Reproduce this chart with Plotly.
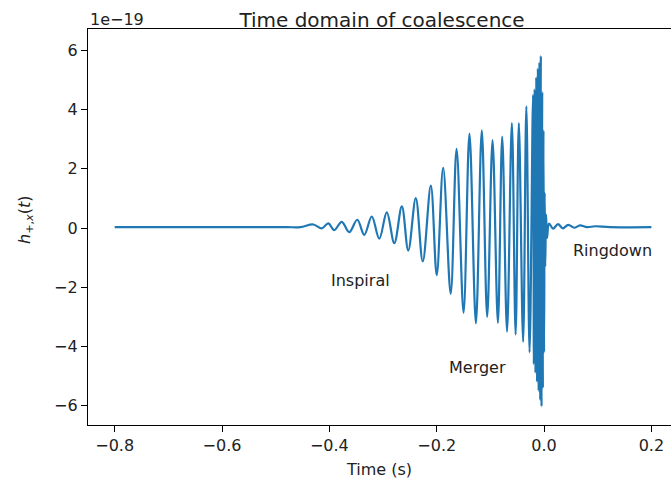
import plotly.graph_objects as go

# Extrema of the waveform (time in s, strain in units of 1e-19)
time_s = [-0.8, -0.6, -0.48, -0.454, -0.430, -0.414, -0.402, -0.391, -0.377, -0.363, -0.348, -0.335,
          -0.321, -0.307, -0.293, -0.279, -0.265, -0.253, -0.239, -0.226, -0.211, -0.200,
          -0.188, -0.174, -0.163, -0.150, -0.139, -0.127, -0.116, -0.106, -0.096, -0.086,
          -0.078, -0.069, -0.060, -0.053, -0.047, -0.039, -0.033, -0.027,
          -0.0205, -0.0190, -0.0175, -0.0160, -0.0145, -0.0130, -0.0115, -0.0101, -0.0086,
          -0.0071, -0.0060, -0.0047, -0.0034, -0.0022, -0.0011, 0.0, 0.0011, 0.0022,
          0.0037, 0.0056, 0.0093, 0.0168, 0.026, 0.035, 0.045, 0.056, 0.067, 0.080, 0.095,
          0.123, 0.2]
strain_e19 = [0.03, 0.03, 0.03, 0.03, 0.12, -0.01, 0.16, -0.07, 0.21, -0.14, 0.28, -0.23,
              0.39, -0.36, 0.53, -0.51, 0.73, -0.76, 1.01, -1.13, 1.43, -1.59,
              2.03, -2.22, 2.67, -2.86, 3.19, -3.22, 3.30, -3.00, 2.97, -3.20,
              3.09, -3.50, 3.54, -3.60, 3.54, -3.84, 4.11, -4.20,
              4.50, -4.60, 4.70, -4.90, 5.10, -5.20, 5.40, -5.50, 5.60,
              -5.80, 5.82, -6.03, 4.60, -5.40, 3.30, -4.20, 1.20, -1.30,
              0.45, -0.33, 0.15, -0.02, 0.13, -0.01, 0.11, 0.01, 0.09, 0.03, 0.06,
              0.03, 0.03]

x_ticks = [-0.8, -0.6, -0.4, -0.2, 0.0, 0.2]
x_tick_labels = ["\u22120.8", "\u22120.6", "\u22120.4", "\u22120.2", "0.0", "0.2"]
y_ticks = [-6, -4, -2, 0, 2, 4, 6]
y_tick_labels = ["\u22126", "\u22124", "\u22122", "0", "2", "4", "6"]

phase_labels = ["Inspiral", "Merger", "Ringdown"]
phase_x = [-0.4, -0.18, 0.05]
phase_y = [-1.76, -4.72, -0.76]

FONT = "DejaVu Sans"
TXT = "#222"

W, H = 671, 481
ML, MR, MT, MB = 88, 0, 29, 56
plot_w = W - ML - MR
plot_h = H - MT - MB

fig = go.Figure()
fig.add_trace(go.Scatter(
    x=time_s, y=strain_e19, mode="lines",
    line=dict(color="#1f77b4", width=2.2, shape="spline", smoothing=1.0),
    showlegend=False, hoverinfo="skip"))

for txt, px, py in zip(phase_labels, phase_x, phase_y):
    fig.add_annotation(x=px, y=py, xref="x", yref="y", text=txt, showarrow=False,
                       xanchor="left", yanchor="middle",
                       font=dict(family=FONT, size=16, color=TXT))

fig.add_annotation(x=0, y=1, xref="paper", yref="paper", text="1e\u221219",
                   showarrow=False, xanchor="left", yanchor="bottom", yshift=-2,
                   font=dict(family=FONT, size=16, color=TXT))

fig.add_annotation(x=(25 - ML) / plot_w, y=(H - MB - 220) / plot_h,
                   xref="paper", yref="paper",
                   text="<i>h</i><sub>+,<i>x</i></sub>(<i>t</i>)", textangle=-90,
                   showarrow=False, xanchor="center", yanchor="middle",
                   font=dict(family=FONT, size=16, color=TXT))

fig.update_layout(
    width=W, height=H,
    margin=dict(l=ML, r=MR, t=MT, b=MB),
    paper_bgcolor="white", plot_bgcolor="white",
    title=dict(text="Time domain of coalescence", x=(233 + 531) / 2 / W, xanchor="center",
               y=1 - 20 / H, yanchor="middle",
               font=dict(family=FONT, size=20, color=TXT)),
    font=dict(family=FONT, size=16, color=TXT),
    xaxis=dict(range=[-0.8497, 0.2365], tickvals=x_ticks, ticktext=x_tick_labels,
               showgrid=False, zeroline=False, showline=True, mirror=True,
               linecolor="black", linewidth=1.2, ticks="outside", ticklen=6,
               tickwidth=1.2, tickcolor="black",
               title=dict(text="Time (s)", standoff=9, font=dict(family=FONT, size=16))),
    yaxis=dict(range=[-6.65, 6.72], tickvals=y_ticks, ticktext=y_tick_labels,
               showgrid=False, zeroline=False, showline=True, mirror=False,
               linecolor="black", linewidth=1.2, ticks="outside", ticklen=6,
               tickwidth=1.2, tickcolor="black"),
)

fig.write_html("out.html")
